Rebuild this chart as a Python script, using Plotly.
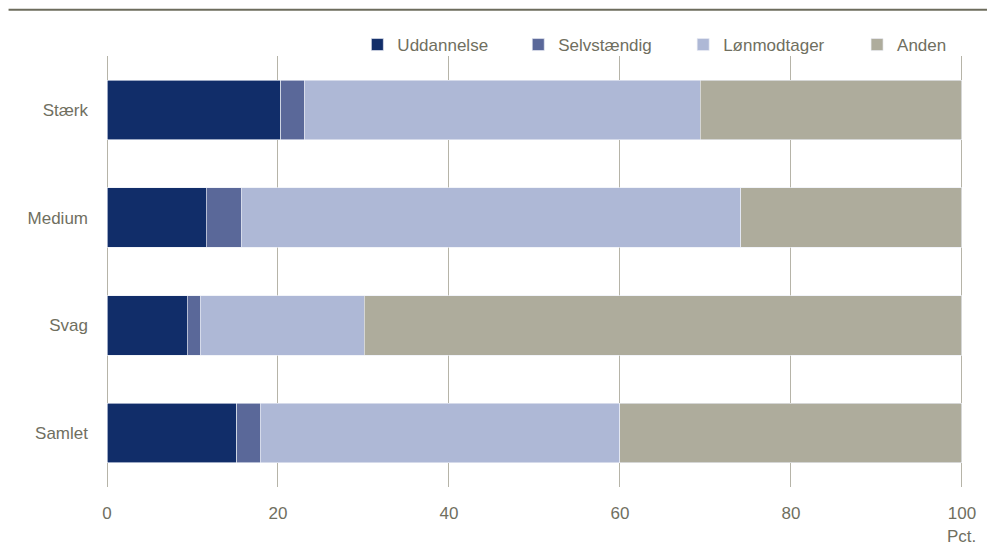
import plotly.graph_objects as go

categories = ["Stærk", "Medium", "Svag", "Samlet"]
series_names = ["Uddannelse", "Selvstændig", "Lønmodtager", "Anden"]
uddannelse = [20.3, 11.6, 9.4, 15.2]
selvstaendig = [2.8, 4.1, 1.5, 2.7]
loenmodtager = [46.3, 58.4, 19.2, 42.1]
anden = [30.6, 25.9, 69.9, 40.0]
x_ticks = [0, 20, 40, 60, 80, 100]
x_unit = "Pct."

colors = ["#112d69", "#5a6899", "#aeb8d6", "#aeac9c"]
text_color = "#706f5f"
FONT = "Liberation Sans, Arial, sans-serif"
FS = 17

values = [uddannelse, selvstaendig, loenmodtager, anden]
legend_ids = ["legend", "legend2", "legend3", "legend4"]

W, H = 987, 547
ml, mr, mt, mb = 106.5, 24, 56, 60
pw = W - ml - mr
ph = H - mt - mb

def px_to_paper_x(px):
    return (px - ml) / pw

def px_to_paper_y(py):
    return 1 + (mt - py) / ph

fig = go.Figure()
for name, vals, col, lid in zip(series_names, values, colors, legend_ids):
    fig.add_trace(go.Bar(
        name=name, y=categories, x=vals, orientation="h",
        marker=dict(color=col, line=dict(color="rgba(235,238,245,0.8)", width=0.8)),
        legend=lid,
    ))

# legend text start positions (px)
legend_text_x = [397, 558, 723, 897]
legend_layout = {}
for lid, tx in zip(legend_ids, legend_text_x):
    legend_layout[lid] = dict(
        x=px_to_paper_x(tx - 40), xanchor="left",
        y=px_to_paper_y(45), yanchor="middle",
        orientation="h", bgcolor="rgba(0,0,0,0)",
        font=dict(family=FONT, size=FS, color=text_color),
        itemclick=False, itemdoubleclick=False,
    )

fig.update_layout(
    width=W, height=H,
    margin=dict(l=ml, r=mr, t=mt, b=mb, pad=0),
    barmode="stack", bargap=0.45,
    plot_bgcolor="white", paper_bgcolor="white",
    font=dict(family=FONT, size=FS, color=text_color),
    showlegend=True,
    **legend_layout,
)
fig.update_xaxes(
    range=[0, 100.12], tickvals=x_ticks, ticktext=[str(v) for v in x_ticks],
    showgrid=True, gridcolor="#b6b4a8", gridwidth=1,
    zeroline=True, zerolinecolor="#b6b4a8", zerolinewidth=1,
    showline=False, ticks="", ticklabelstandoff=14,
    tickfont=dict(family=FONT, size=FS, color=text_color),
)
fig.update_yaxes(
    autorange="reversed", showgrid=False, zeroline=False, showline=False,
    ticks="", ticklabelstandoff=18,
    tickfont=dict(family=FONT, size=FS, color=text_color),
)
fig.add_annotation(
    x=100, xref="x", y=px_to_paper_y(536), yref="paper",
    text=x_unit, showarrow=False, xanchor="center", yanchor="middle",
    font=dict(family=FONT, size=FS, color=text_color),
)
fig.add_shape(
    type="line", xref="paper", yref="paper",
    x0=px_to_paper_x(8), x1=px_to_paper_x(987),
    y0=px_to_paper_y(9.7), y1=px_to_paper_y(9.7),
    line=dict(color="#6d6c5c", width=2),
)

fig.write_html(
    "out.html",
    config={"displayModeBar": False},
    post_script="document.body.style.margin='0';document.body.style.padding='0';",
)
